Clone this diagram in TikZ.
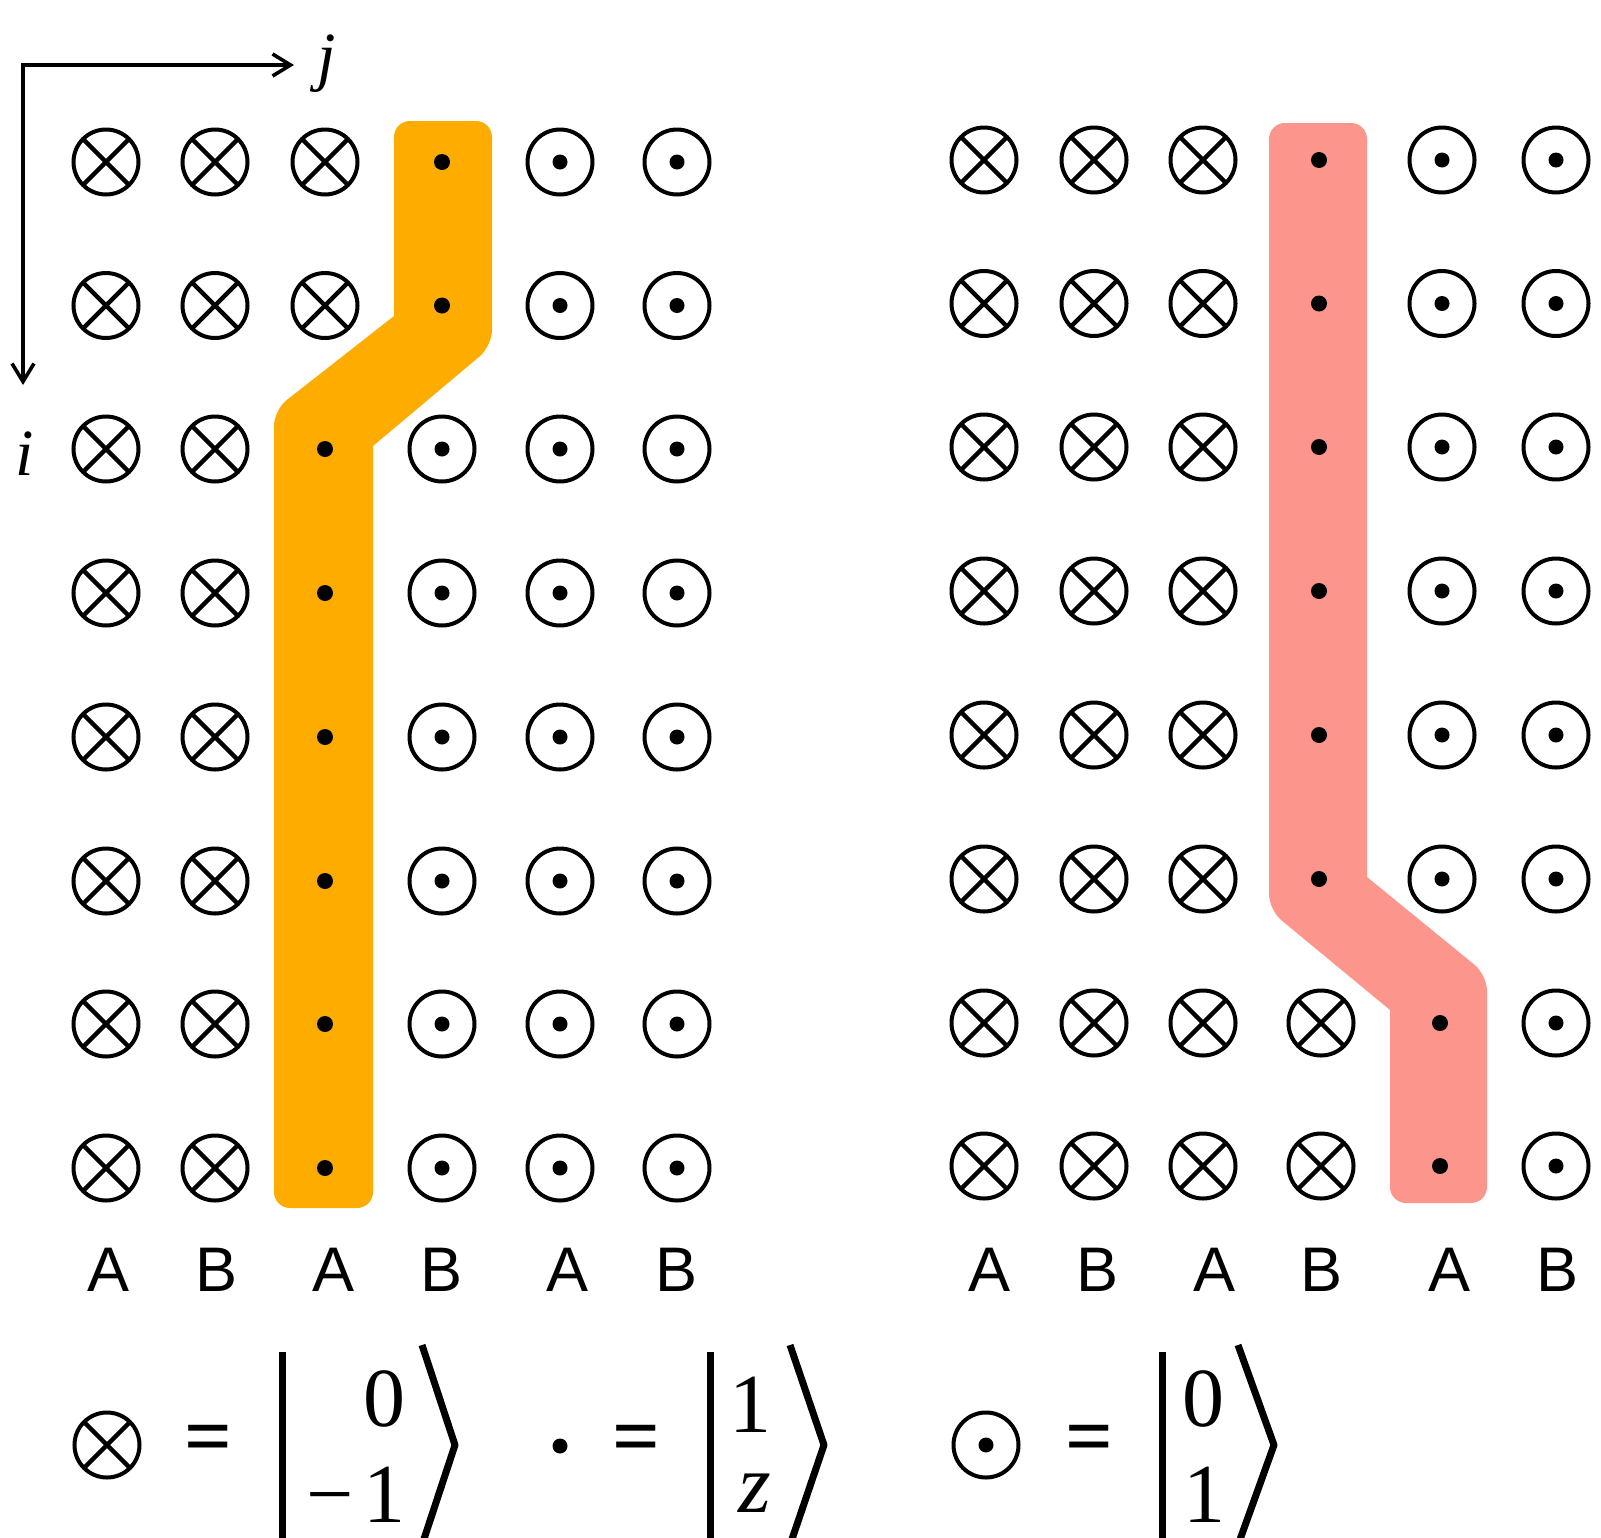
\documentclass[tikz,border=0pt]{standalone}
\usepackage{fontspec}
\setmainfont{Liberation Serif}
\newfontfamily\abfont{Liberation Sans}
\usetikzlibrary{arrows.meta}
\definecolor{bandorange}{RGB}{254,173,0}
\definecolor{bandpink}{RGB}{252,150,140}
\begin{document}
\begin{tikzpicture}[x=0.5pt,y=-0.5pt,
  ox/.style={circle,draw,line width=2pt,minimum size=32.5pt,inner sep=0pt,
     path picture={\draw[line width=2.2pt] (path picture bounding box.north west) -- (path picture bounding box.south east)
        (path picture bounding box.north east) -- (path picture bounding box.south west);}},
  od/.style={circle,draw,line width=2pt,minimum size=32.5pt,inner sep=0pt,
     path picture={\fill (path picture bounding box.center) circle[radius=3.75pt];}},
  dt/.style={circle,fill,minimum size=8pt,inner sep=0pt},
  lab/.style={font=\abfont\fontsize{31.5}{36}\selectfont,inner sep=0pt,anchor=base},
  axlab/.style={font=\itshape\fontsize{33}{38}\selectfont,inner sep=0pt,anchor=base},
  num/.style={font=\fontsize{42}{48}\selectfont,inner sep=0pt,anchor=base east},
  eqs/.style={font=\bfseries\fontsize{42}{48}\selectfont,inner sep=0pt,anchor=center},
  axis/.style={line width=1.8pt,{Straight Barb[length=9pt,width=11pt]}-{Straight Barb[length=9pt,width=11pt]}},
  ketbar/.style={line width=3.5pt},
  ketang/.style={line width=3.5pt,line join=round},
]
\useasboundingbox (0,0) rectangle (1601,1537);
\fill[white] (0,0) rectangle (1601,1537);

% bands
\fill[bandorange] (394,200) [rounded corners=8pt] -- (394,121) -- (492,121) -- (492,346) [sharp corners] -- (373,446) [rounded corners=8pt] -- (373,1208) -- (274,1208) -- (274,410) [sharp corners] -- (394,316) -- cycle;
\fill[bandpink] (1269,500) [rounded corners=8pt] -- (1269,123) -- (1367,123) [sharp corners] -- (1367,877) [rounded corners=8pt] -- (1487,975) -- (1487,1203) -- (1390,1203) [sharp corners] -- (1390,1010) [rounded corners=8pt] -- (1269,910) -- cycle;

% left grid
\foreach \r/\y in {1/162,2/305.5,3/449,4/593,5/737,6/881,7/1024,8/1168}{
  \foreach \c/\x in {1/106,2/215,3/325,4/442,5/560,6/677}{
    \ifnum\r<3 \def\k{3}\else\def\k{2}\fi
    \ifnum\c>\k\relax
      \ifnum\c=\numexpr\k+1\relax \node[dt] (L-\r-\c) at (\x,\y) {};
      \else \node[od] (L-\r-\c) at (\x,\y) {};\fi
    \else \node[ox] (L-\r-\c) at (\x,\y) {};\fi
  }
}
% right grid
\foreach \r/\y in {1/160,2/303.5,3/447,4/591,5/735,6/879,7/1023,8/1166}{
  \foreach \c/\x in {1/984,2/1094,3/1203,4/1321,5/1442,6/1556}{
    \ifnum\r<7 \def\k{3}\else\def\k{4}\fi
    \ifnum\c>\k\relax
      \ifnum\c=\numexpr\k+1\relax \node[dt] (R-\r-\c) at (\x-2,\y) {};
      \else \node[od] (R-\r-\c) at (\x,\y) {};\fi
    \else \node[ox] (R-\r-\c) at (\x,\y) {};\fi
  }
}

% column labels
\foreach \i/\x/\t in {1/109/A,2/217/B,3/334/A,4/442/B,5/568/A,6/677/B}{
  \node[lab] (LL-\i) at (\x,1291) {\t};
}
\foreach \i/\x/\t in {1/989/A,2/1097/B,3/1214/A,4/1321.5/B,5/1449/A,6/1557/B}{
  \node[lab] (RL-\i) at (\x,1291) {\t};
}

% axes
\coordinate (O) at (23,65);
\coordinate (jtip) at (294,65);
\coordinate (itip) at (23,385);
\draw[axis] (jtip) -- (O) -- (itip);
\node[axlab] (jlab) at (327,78) {j};
\node[axlab] (ilab) at (25,475) {i};

% legend 1
\node[ox] (k1sym) at (107,1445) {};
\node[eqs] (k1eq) at (208.5,1444.5) {=};
\draw[ketbar] (282.5,1352) -- (282.5,1560);
\node[num] (k1a) at (406,1426) {0};
\node[num] (k1b) at (406,1522) {−\kern5pt 1};
\draw[ketang] (422,1345) -- (455,1445) -- (422,1545);

% legend 2
\node[dt,minimum size=7.5pt] (k2sym) at (560,1446) {};
\node[eqs] (k2eq) at (636.5,1444.5) {=};
\draw[ketbar] (710.5,1352) -- (710.5,1560);
\node[num] (k2a) at (772,1432) {1};
\node[num] (k2b) at (772,1512) {\itshape z};
\draw[ketang] (790,1345) -- (824,1445) -- (790,1545);

% legend 3
\node[od] (k3sym) at (986,1445) {};
\node[eqs] (k3eq) at (1089,1444.5) {=};
\draw[ketbar] (1162,1352) -- (1162,1560);
\node[num] (k3a) at (1225,1426) {0};
\node[num] (k3b) at (1226,1522) {1};
\draw[ketang] (1238,1345) -- (1274,1445) -- (1238,1545);
\end{tikzpicture}
\end{document}
